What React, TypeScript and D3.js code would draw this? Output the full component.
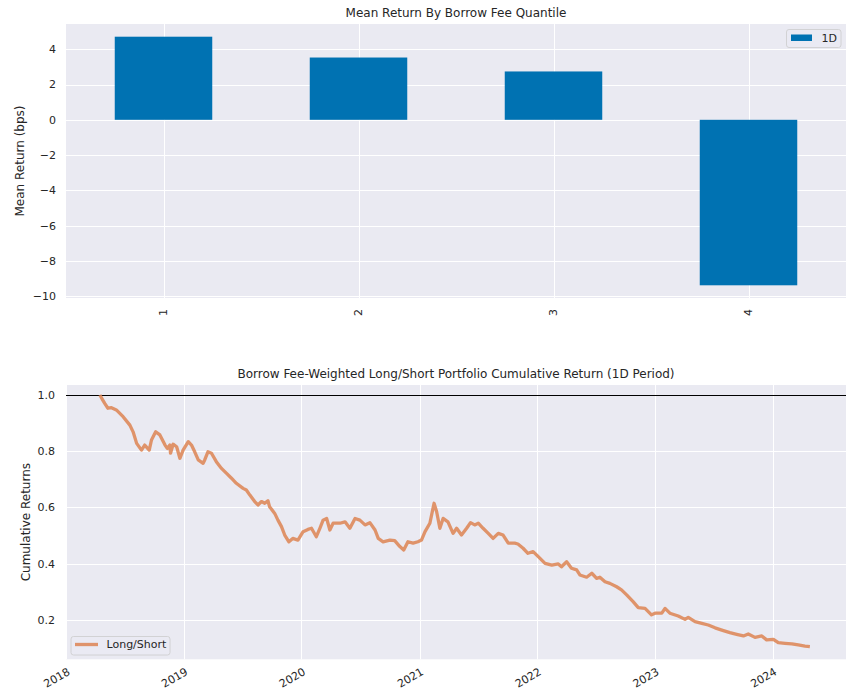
import React from "react";
import * as d3 from "d3";

// ---------- Data ----------
const quantiles = ["1", "2", "3", "4"];
const meanReturnBps = [4.71, 3.53, 2.74, -9.38];
const topYTicks = [-10, -8, -6, -4, -2, 0, 2, 4];

const lsDates = [
  "2018-04-16","2018-04-25","2018-05-01","2018-05-11","2018-05-22","2018-06-06","2018-06-27","2018-07-18",
  "2018-07-28","2018-08-08","2018-08-23","2018-09-02","2018-09-16","2018-09-23","2018-10-06","2018-10-19",
  "2018-11-04","2018-11-11","2018-11-19","2018-11-21","2018-11-29","2018-12-10","2018-12-20","2018-12-30",
  "2019-01-15","2019-01-25","2019-02-04","2019-02-15","2019-03-02","2019-03-07","2019-03-17","2019-03-28",
  "2019-04-12","2019-04-28","2019-05-13","2019-05-29","2019-06-13","2019-07-04","2019-07-14","2019-07-25",
  "2019-08-09","2019-08-19","2019-08-30","2019-09-09","2019-09-19","2019-09-24","2019-10-10","2019-10-20",
  "2019-10-31","2019-11-10","2019-11-23","2019-12-05","2019-12-21","2020-01-06","2020-01-21","2020-02-01",
  "2020-02-16","2020-02-27","2020-03-08","2020-03-19","2020-03-29","2020-04-08","2020-04-29","2020-05-15",
  "2020-05-30","2020-06-15","2020-06-30","2020-07-16","2020-07-31","2020-08-16","2020-08-26","2020-09-10",
  "2020-10-01","2020-10-16","2020-11-01","2020-11-13","2020-11-26","2020-12-12","2020-12-27","2021-01-07",
  "2021-01-18","2021-02-02","2021-02-15","2021-02-23","2021-03-05","2021-03-15","2021-03-30","2021-04-15",
  "2021-04-26","2021-05-11","2021-05-27","2021-06-08","2021-06-21","2021-07-02","2021-07-17","2021-08-02",
  "2021-08-17","2021-09-02","2021-09-17","2021-10-03","2021-10-23","2021-11-02","2021-11-18","2021-12-03",
  "2021-12-19","2022-01-04","2022-01-25","2022-02-15","2022-03-07","2022-03-17","2022-04-02","2022-04-17",
  "2022-05-03","2022-05-13","2022-06-03","2022-06-19","2022-07-04","2022-07-14","2022-07-30","2022-08-14",
  "2022-09-04","2022-09-19","2022-10-05","2022-10-25","2022-11-10","2022-12-01","2022-12-21","2023-01-01",
  "2023-01-22","2023-02-01","2023-02-16","2023-03-14","2023-04-04","2023-04-14","2023-05-05","2023-05-26",
  "2023-06-15","2023-07-06","2023-07-27","2023-08-21","2023-09-11","2023-10-02","2023-10-17","2023-11-07",
  "2023-11-28","2023-12-13","2024-01-03","2024-01-18","2024-02-08","2024-02-29","2024-03-20","2024-04-10",
  "2024-04-25"
];
const lsValues = [
  1.000,0.982,0.970,0.953,0.955,0.947,0.923,0.893,
  0.869,0.828,0.804,0.822,0.804,0.840,0.869,0.858,
  0.822,0.810,0.822,0.793,0.825,0.816,0.775,0.804,
  0.834,0.822,0.798,0.769,0.757,0.769,0.798,0.793,
  0.763,0.739,0.722,0.704,0.686,0.668,0.662,0.644,
  0.621,0.609,0.621,0.615,0.624,0.603,0.579,0.555,
  0.532,0.502,0.478,0.490,0.484,0.514,0.522,0.526,
  0.496,0.526,0.555,0.561,0.520,0.544,0.544,0.549,
  0.526,0.561,0.555,0.538,0.546,0.520,0.490,0.478,
  0.484,0.482,0.461,0.449,0.478,0.473,0.478,0.484,
  0.514,0.544,0.615,0.585,0.526,0.561,0.549,0.508,
  0.526,0.502,0.526,0.546,0.538,0.544,0.526,0.508,
  0.490,0.508,0.502,0.473,0.473,0.470,0.455,0.437,
  0.443,0.425,0.401,0.395,0.399,0.389,0.407,0.384,
  0.378,0.360,0.352,0.366,0.348,0.352,0.336,0.330,
  0.318,0.307,0.289,0.265,0.244,0.241,0.218,0.224,
  0.224,0.241,0.224,0.214,0.202,0.209,0.194,0.188,
  0.182,0.172,0.164,0.155,0.149,0.143,0.150,0.138,
  0.143,0.129,0.131,0.119,0.117,0.115,0.111,0.107,
  0.105
];
const bottomYTicks = [0.2, 0.4, 0.6, 0.8, 1.0];
const yearTicks = ["2018", "2019", "2020", "2021", "2022", "2023", "2024"];

// ---------- Styles ----------
const FONT = "DejaVu Sans, sans-serif";
const BG = "#eaeaf2";
const TXT = "#262626";
const BAR = "#0072b2";
const LINE = "#dd8452";

export default function App() {
  const W = 853, H = 699;
  const L = 66, R = 846;

  // Top chart
  const tTop = 24, tBot = 298;
  const xb = d3.scaleBand<string>().domain(quantiles).range([L, R]).paddingInner(0.5).paddingOuter(0.25);
  const yt = d3.scaleLinear().domain([-10.1, 5.43]).range([tBot, tTop]);

  // Bottom chart
  const bTop = 385, bBot = 659.3;
  const parse = d3.timeParse("%Y-%m-%d");
  const xd = d3.scaleTime().domain([new Date(2018, 0, 1), new Date(2024, 7, 15)]).range([L, R]);
  const yb = d3.scaleLinear().domain([0.06, 1.0356]).range([bBot, bTop]);
  const pts = lsDates.map((d, i) => [parse(d) as Date, lsValues[i]] as [Date, number]);
  const line = d3.line<[Date, number]>().x(d => xd(d[0])).y(d => yb(d[1]));
  const crisp = (v: number) => Math.round(v) + 0.5;

  return (
    <svg width={W} height={H} style={{ position: "absolute", left: 0, top: 0, background: "#fff" }} fontFamily={FONT}>
      {/* ---------- Top chart ---------- */}
      <rect x={L} y={tTop} width={R - L} height={tBot - tTop} fill={BG} />
      {topYTicks.map(t => (
        <g key={"yt" + t}>
          <line x1={L} x2={R} y1={crisp(yt(t))} y2={crisp(yt(t))} stroke="#fff" strokeWidth={1} />
          <text x={56} y={yt(t)} dy="0.35em" textAnchor="end" fontSize={11} fill={TXT}>
            {t < 0 ? "\u2212" + Math.abs(t) : t}
          </text>
        </g>
      ))}
      {quantiles.map(q => {
        const cx = xb(q)! + xb.bandwidth() / 2;
        return (
          <g key={"xq" + q}>
            <line x1={crisp(cx)} x2={crisp(cx)} y1={tTop} y2={tBot} stroke="#fff" strokeWidth={1} />
            <text transform={`translate(${cx},309) rotate(-90)`} dy="0.35em" textAnchor="end" fontSize={11} fill={TXT}>{q}</text>
          </g>
        );
      })}
      {quantiles.map((q, i) => (
        <rect key={"bar" + q} x={xb(q)} width={xb.bandwidth()}
          y={Math.min(yt(0), yt(meanReturnBps[i]))}
          height={Math.abs(yt(meanReturnBps[i]) - yt(0))} fill={BAR} />
      ))}
      <text x={(L + R) / 2} y={17} textAnchor="middle" fontSize={12} fill={TXT}>Mean Return By Borrow Fee Quantile</text>
      <text transform={`translate(24,${(tTop + tBot) / 2}) rotate(-90)`} textAnchor="middle" fontSize={12} fill={TXT}>Mean Return (bps)</text>
      {/* legend top */}
      <rect x={786.5} y={29.5} width={54.5} height={18} rx={2.5} fill={BG} fillOpacity={0.8} stroke="#cccccc" strokeWidth={0.8} />
      <rect x={791} y={34.5} width={21} height={6.5} fill={BAR} />
      <text x={821.5} y={38} dy="0.35em" fontSize={11} fill={TXT}>1D</text>

      {/* ---------- Bottom chart ---------- */}
      <rect x={L} y={bTop} width={R - L} height={bBot - bTop} fill={BG} />
      {bottomYTicks.map(t => (
        <g key={"yb" + t}>
          <line x1={L} x2={R} y1={crisp(yb(t))} y2={crisp(yb(t))} stroke="#fff" strokeWidth={1} />
          <text x={55} y={yb(t)} dy="0.35em" textAnchor="end" fontSize={11} fill={TXT}>{t.toFixed(1)}</text>
        </g>
      ))}
      {yearTicks.map(y => {
        const x = xd(new Date(+y, 0, 1));
        return (
          <g key={"xy" + y}>
            <line x1={crisp(x)} x2={crisp(x)} y1={bTop} y2={bBot} stroke="#fff" strokeWidth={1} />
            <text transform={`translate(${x + 1},${bBot + 8}) rotate(-30)`} dy="0.7em" textAnchor="end" fontSize={11} fill={TXT}>{y}</text>
          </g>
        );
      })}
      <line x1={L} x2={R} y1={crisp(yb(1.0))} y2={crisp(yb(1.0))} stroke="#000" strokeWidth={1} />
      <path d={line(pts) || ""} fill="none" stroke={LINE} strokeOpacity={0.85} strokeWidth={3.3} strokeLinejoin="round" />
      <text x={(L + R) / 2} y={378} textAnchor="middle" fontSize={12} fill={TXT}>Borrow Fee-Weighted Long/Short Portfolio Cumulative Return (1D Period)</text>
      <text transform={`translate(30,${(bTop + bBot) / 2}) rotate(-90)`} textAnchor="middle" fontSize={12} fill={TXT}>Cumulative Returns</text>
      {/* legend bottom */}
      <rect x={71} y={636.5} width={99} height={18.5} rx={2.5} fill={BG} fillOpacity={0.8} stroke="#cccccc" strokeWidth={0.8} />
      <line x1={75} x2={98} y1={644.5} y2={644.5} stroke={LINE} strokeOpacity={0.85} strokeWidth={3.3} />
      <text x={106.5} y={644.5} dy="0.35em" fontSize={11} fill={TXT}>Long/Short</text>
    </svg>
  );
}
